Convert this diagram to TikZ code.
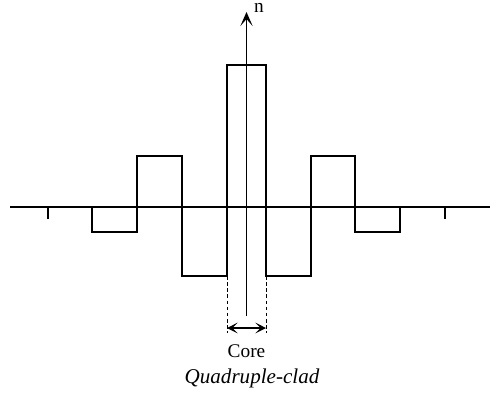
\documentclass[tikz,border=0pt]{standalone}
\usepackage{fontspec}
\setmainfont{Liberation Serif}
\usetikzlibrary{arrows.meta,calc}
\tikzstyle{arrow} = [line width=1pt,-{Stealth[length=8pt,width=7pt,inset=4pt]}]

\begin{document}
\begin{tikzpicture}[
        x=0.02cm,
        y=-0.02cm,
        line cap=butt,
        line join=miter,
        every node/.style={font=\fontsize{11}{13}\selectfont}
    ]

        \useasboundingbox (0,0) rectangle (503,392);

        % 坐标轴
        \coordinate (L) at (10,207);
        \coordinate (R) at (490,207);
        \coordinate (B) at (246.5,316);
        \coordinate (T) at (246.5,12);

        \draw[line width=0.7pt] (L) -- (R);
        \draw[arrow] (B) -- (T);
        \node (n) at (259,8) {n};

        % 纤芯边界
        \coordinate (CL) at (227,276);
        \coordinate (CR) at (266,276);
        \coordinate (DL) at (227,333);
        \coordinate (DR) at (266,333);

        % 折射率分布
        \draw[line width=1.6pt]
            (48,219) -- (48,207) -- (92,207) -- (92,232)
            -- (137,232) -- (137,156) -- (182,156) -- (182,276)
            -- (CL) -- (227,65) -- (266,65) -- (CR)
            -- (311,276) -- (311,156) -- (355,156) -- (355,232)
            -- (400,232) -- (400,207) -- (445,207) -- (445,219);

        % 虚线与纤芯宽度
        \draw[dashed,line width=0.4pt,dash pattern=on 2pt off 1.5pt] (CL) -- (DL);
        \draw[dashed,line width=0.4pt,dash pattern=on 2pt off 1.5pt] (CR) -- (DR);

        \coordinate (AL) at (227,328);
        \coordinate (AR) at (266,328);
        \draw[line width=0.9pt,{Stealth[length=6pt,width=6pt,inset=3pt]}-{Stealth[length=6pt,width=6pt,inset=3pt]}]
            (AL) -- (AR);

        % 文字
        \node (core) at (246.5,351) {Core};
        \node[font=\fontsize{12}{14}\selectfont\itshape] (clad) at (252,378)
            {Quadruple-clad};

    \end{tikzpicture}
\end{document}
